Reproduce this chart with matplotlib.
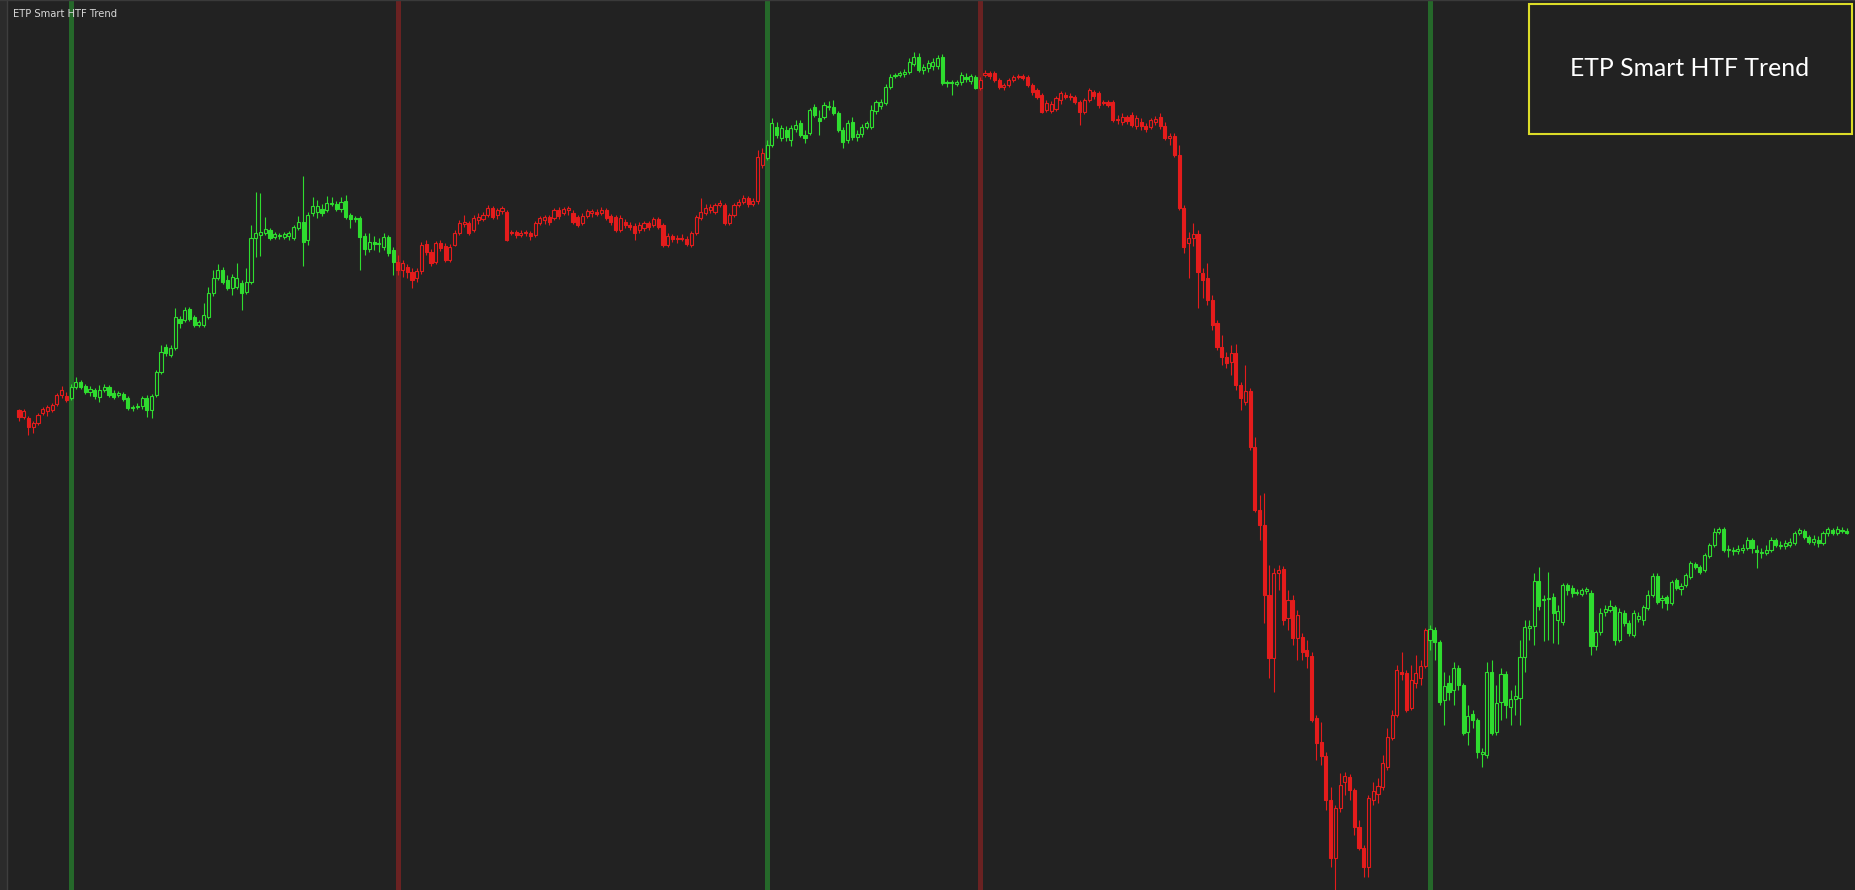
import matplotlib
matplotlib.use("Agg")
import numpy as np
import matplotlib.pyplot as plt
from matplotlib.patches import Rectangle

BG = "#222222"
BULL = "#2fdc2f"
BEAR = "#e41c1c"
LINE_UP = "#25682a"
LINE_DN = "#6a2222"

# bars as (open, high, low, close), one list per trend leg
leg_1 = [(590, 591, 579, 583), (583, 591, 581, 589), (582, 584, 565, 573), (573, 579, 567, 577),
         (577, 587, 575, 585), (587, 593, 585, 591), (589, 595, 584, 593), (590, 597, 588, 595),
         (596, 607, 594, 605), (605, 614, 602, 610), (604, 608, 598, 600)]

leg_2 = [(602, 616, 600, 613), (613, 623, 611, 618), (618, 620, 611, 613), (614, 616, 606, 608),
         (608, 614, 604, 611), (610, 612, 601, 604), (603, 615, 598, 610), (610, 616, 608, 613),
         (613, 615, 603, 605), (607, 610, 601, 603), (605, 609, 603, 607), (606, 608, 599, 601),
         (602, 604, 590, 592), (592, 595, 589, 593), (593, 597, 591, 594), (594, 604, 591, 602),
         (602, 605, 583, 590), (590, 606, 582, 604), (605, 630, 603, 628), (628, 655, 626, 648),
         (653, 656, 644, 647), (645, 655, 643, 652), (652, 692, 650, 683), (681, 684, 672, 677),
         (680, 693, 678, 690), (691, 693, 679, 681), (683, 685, 673, 675), (675, 680, 673, 678),
         (675, 697, 673, 685), (683, 713, 681, 707), (707, 730, 704, 722), (722, 736, 720, 730),
         (730, 733, 716, 718), (720, 725, 710, 712), (712, 726, 705, 723), (713, 737, 711, 722),
         (717, 720, 690, 707), (708, 732, 706, 718), (718, 775, 716, 762), (762, 808, 743, 767),
         (765, 807, 744, 768), (767, 783, 765, 771), (770, 772, 760, 762), (763, 768, 761, 766),
         (764, 767, 761, 765), (763, 768, 761, 766), (764, 769, 760, 767), (762, 775, 760, 773),
         (772, 784, 770, 778), (778, 824, 734, 758), (760, 788, 755, 785), (787, 803, 784, 794),
         (788, 800, 782, 794), (791, 796, 784, 787), (790, 804, 788, 797), (796, 803, 794, 797),
         (796, 799, 789, 791), (791, 803, 788, 798), (799, 805, 781, 783), (785, 787, 772, 781),
         (781, 784, 778, 782), (782, 784, 730, 763), (764, 767, 745, 751), (751, 767, 748, 758),
         (758, 764, 750, 756), (756, 762, 748, 757), (753, 767, 750, 763), (763, 765, 744, 747),
         (750, 753, 725, 738)]

leg_3 = [(738, 745, 725, 730), (730, 740, 723, 737), (733, 736, 722, 728), (728, 732, 712, 720),
         (722, 732, 718, 729), (729, 758, 726, 755), (756, 760, 745, 748), (748, 751, 734, 737),
         (738, 759, 736, 757), (757, 760, 749, 752), (754, 757, 738, 740), (740, 756, 738, 753),
         (755, 770, 754, 767), (767, 780, 765, 777), (776, 785, 773, 778), (777, 779, 765, 767),
         (770, 785, 768, 782), (780, 787, 776, 783), (781, 788, 779, 785), (785, 795, 783, 792),
         (792, 794, 781, 783), (785, 792, 781, 790), (789, 794, 786, 792), (788, 790, 759, 760),
         (767, 770, 765, 768), (768, 770, 762, 765), (765, 770, 763, 767), (767, 770, 764, 768),
         (767, 769, 760, 764), (765, 779, 763, 777), (777, 784, 775, 782), (780, 785, 776, 783),
         (783, 785, 775, 778), (782, 792, 780, 790), (790, 793, 781, 784), (787, 793, 785, 791),
         (790, 794, 785, 792), (787, 790, 776, 778), (783, 785, 773, 775), (777, 787, 775, 784),
         (784, 791, 782, 789), (787, 791, 783, 789), (788, 791, 784, 786), (787, 793, 785, 790),
         (790, 792, 780, 782), (784, 786, 775, 778), (783, 785, 768, 770), (770, 785, 768, 782),
         (778, 781, 772, 775), (775, 778, 770, 773), (774, 777, 760, 767), (770, 778, 767, 775),
         (772, 779, 769, 777), (777, 779, 770, 773), (775, 783, 773, 781), (781, 783, 771, 773),
         (775, 777, 753, 755), (755, 767, 753, 764), (764, 766, 758, 761), (761, 765, 757, 762),
         (762, 766, 759, 761), (761, 764, 754, 756), (755, 769, 753, 767), (767, 785, 765, 783),
         (782, 802, 780, 788), (787, 796, 785, 792), (790, 796, 787, 793), (788, 797, 786, 795),
         (795, 800, 793, 797), (795, 797, 775, 777), (777, 787, 775, 785), (785, 797, 783, 795),
         (795, 801, 793, 798), (798, 805, 796, 802), (802, 804, 793, 796), (796, 802, 794, 799),
         (799, 850, 796, 843), (835, 852, 832, 847)]

leg_4 = [(842, 860, 840, 855), (855, 882, 853, 877), (873, 878, 862, 865), (862, 875, 859, 872),
         (870, 874, 859, 863), (860, 875, 854, 872), (871, 880, 868, 875), (877, 880, 863, 865),
         (865, 870, 857, 862), (867, 892, 865, 890), (893, 896, 883, 885), (882, 890, 865, 879),
         (883, 898, 881, 895), (893, 899, 890, 894), (893, 900, 885, 887), (887, 889, 868, 870),
         (870, 873, 852, 858), (860, 880, 857, 877), (878, 883, 860, 863), (863, 870, 859, 866),
         (866, 876, 863, 873), (873, 879, 871, 877), (873, 895, 871, 890), (889, 900, 886, 898),
         (894, 901, 891, 898), (897, 916, 895, 913), (913, 926, 911, 923), (924, 927, 922, 925),
         (925, 929, 923, 927), (926, 931, 923, 928), (928, 942, 926, 938), (936, 948, 934, 943),
         (943, 947, 928, 930), (930, 936, 926, 933), (932, 940, 928, 937), (934, 942, 930, 938),
         (934, 945, 931, 942), (943, 946, 915, 917), (917, 920, 913, 918), (918, 920, 905, 917),
         (916, 920, 914, 918), (918, 928, 915, 925), (923, 927, 918, 921), (919, 926, 916, 924),
         (923, 925, 911, 912)]

leg_5 = [(912, 923, 910, 920), (925, 930, 923, 927), (927, 929, 921, 924), (927, 929, 918, 920),
         (920, 922, 911, 913), (913, 917, 910, 915), (915, 922, 913, 920), (920, 925, 918, 923),
         (923, 926, 921, 924), (924, 926, 920, 922), (923, 925, 913, 915), (915, 917, 905, 908),
         (910, 912, 901, 903), (905, 907, 887, 888), (890, 900, 888, 897), (889, 899, 887, 896),
         (891, 904, 889, 902), (900, 909, 896, 907), (905, 908, 901, 903), (903, 907, 900, 904),
         (903, 905, 896, 898), (898, 900, 875, 888), (888, 902, 886, 900), (900, 912, 898, 910),
         (908, 910, 901, 904), (907, 909, 892, 895), (897, 900, 895, 898), (898, 900, 893, 895),
         (898, 900, 878, 880), (880, 885, 876, 881), (878, 887, 875, 883), (883, 885, 876, 879),
         (885, 888, 873, 875), (874, 885, 871, 882), (878, 882, 870, 874), (874, 877, 868, 871),
         (873, 882, 871, 880), (878, 884, 875, 881), (883, 887, 871, 874), (874, 878, 860, 862),
         (862, 867, 855, 864), (864, 867, 843, 845), (845, 855, 790, 792), (792, 795, 747, 753),
         (757, 768, 722, 762), (762, 777, 754, 766), (766, 770, 692, 728), (727, 732, 702, 720),
         (722, 737, 695, 700), (700, 705, 670, 675), (677, 680, 650, 653), (653, 665, 635, 643),
         (643, 648, 632, 637), (638, 655, 625, 647), (647, 656, 610, 615), (615, 618, 590, 602),
         (598, 635, 595, 609), (609, 612, 550, 553), (553, 563, 488, 490), (490, 505, 460, 475),
         (475, 507, 377, 405), (405, 435, 322, 342), (342, 432, 308, 427), (427, 435, 410, 430),
         (431, 434, 375, 380), (382, 410, 370, 400), (400, 405, 355, 362), (362, 390, 340, 385),
         (363, 367, 340, 348), (350, 360, 332, 344), (344, 348, 278, 280), (282, 285, 240, 257),
         (258, 278, 235, 244), (244, 248, 190, 200), (200, 213, 133, 142), (142, 195, 110, 192),
         (192, 227, 188, 215), (218, 228, 205, 224), (223, 226, 200, 210), (210, 212, 165, 173),
         (173, 180, 150, 152), (152, 155, 123, 133), (133, 205, 123, 202), (200, 218, 195, 209),
         (206, 222, 197, 214), (213, 245, 210, 237), (233, 272, 230, 263), (262, 290, 260, 285),
         (285, 335, 283, 330), (328, 348, 320, 326), (327, 330, 288, 290), (292, 335, 290, 320),
         (317, 345, 312, 327), (322, 340, 315, 334), (334, 372, 332, 370)]

leg_6 = [(360, 375, 350, 371), (370, 373, 340, 358), (358, 360, 295, 298), (300, 328, 275, 314),
         (317, 325, 300, 308), (310, 338, 295, 332), (332, 335, 310, 315), (315, 317, 265, 267),
         (268, 295, 255, 284), (286, 290, 272, 280), (280, 282, 242, 248), (246, 252, 233, 248),
         (245, 338, 242, 328), (328, 340, 265, 267), (268, 315, 265, 297), (298, 332, 280, 326),
         (326, 329, 282, 295), (293, 310, 275, 301), (301, 315, 285, 304), (302, 360, 275, 343),
         (343, 380, 328, 373), (372, 380, 360, 374), (374, 427, 355, 419), (419, 433, 390, 394),
         (400, 405, 359, 401), (401, 428, 360, 402), (403, 407, 357, 387), (380, 395, 356, 389),
         (378, 417, 375, 415), (415, 417, 405, 410), (412, 415, 403, 407), (407, 411, 405, 408),
         (406, 412, 404, 410), (409, 413, 406, 411), (407, 410, 345, 354), (354, 370, 350, 368),
         (368, 392, 365, 387), (388, 395, 384, 391), (390, 400, 388, 394), (393, 395, 355, 360),
         (360, 392, 358, 388), (387, 390, 374, 377), (377, 380, 364, 367), (365, 390, 363, 387),
         (381, 388, 378, 384), (380, 395, 375, 393), (392, 410, 390, 405), (405, 427, 403, 424),
         (424, 427, 396, 398), (400, 405, 392, 402), (403, 405, 390, 397), (397, 420, 395, 418),
         (420, 422, 410, 412), (411, 417, 405, 414), (415, 427, 413, 425), (423, 439, 421, 437),
         (436, 438, 431, 433), (433, 435, 426, 428), (430, 447, 428, 445), (444, 457, 442, 455),
         (455, 472, 453, 468), (468, 473, 466, 471), (471, 473, 448, 450), (450, 455, 443, 451),
         (449, 453, 445, 450), (449, 455, 446, 451), (450, 456, 447, 452), (452, 463, 450, 460),
         (460, 462, 447, 452), (450, 455, 432, 448), (447, 452, 442, 448), (447, 455, 445, 450),
         (450, 463, 448, 460), (460, 462, 453, 455), (454, 459, 451, 455), (454, 460, 451, 457),
         (455, 462, 453, 458), (457, 469, 455, 467), (467, 472, 465, 470), (469, 471, 461, 463),
         (463, 465, 456, 458), (458, 465, 455, 461), (460, 464, 453, 457), (457, 469, 455, 467),
         (467, 473, 464, 471), (470, 472, 465, 467), (467, 474, 465, 471), (470, 473, 467, 469),
         (469, 472, 466, 467)]

legs = [leg_1, leg_2, leg_3, leg_4, leg_5, leg_6]
leg_trend = ["down", "up", "down", "up", "down", "up"]

title = "ETP Smart HTF Trend"

bars = np.array([b for leg in legs for b in leg], dtype=float)
trend = [t for leg, t in zip(legs, leg_trend) for _ in leg]
o, h, l, c = bars.T
x = np.arange(len(bars))
cols = [BULL if t == "up" else BEAR for t in trend]

fig = plt.figure(figsize=(18.55, 8.9), dpi=100, facecolor=BG)
ax = fig.add_axes([0, 0, 1, 1])
ax.set_facecolor(BG)
ax.set_axis_off()

# bar i sits at pixel x0 + i*step
x0, step = 19.0, 4.735
ax.set_xlim(-x0 / step, (1855 - x0) / step)
ax.set_ylim(110, 1000)

# trend switch line drawn on the first bar of each new leg
start = 0
for leg, t in zip(legs[:-1], leg_trend[1:]):
    start += len(leg)
    ax.axvline(start, color=LINE_UP if t == "up" else LINE_DN, lw=3.6, zorder=1)

ax.vlines(x, l, h, colors=cols, lw=0.8, zorder=2)
w = 0.66
for i in range(len(bars)):
    lo, hi = min(o[i], c[i]), max(o[i], c[i])
    fc = cols[i] if c[i] < o[i] else BG
    ax.add_patch(Rectangle((x[i] - w / 2, lo), w, max(hi - lo, 0.8),
                           facecolor=fc, edgecolor=cols[i], lw=0.8, zorder=3))

# window frame bits
fig.patches.append(Rectangle((0, 0), 7 / 1855, 1, transform=fig.transFigure,
                             facecolor="#2b2b2b", edgecolor="none", zorder=5))
fig.lines.append(plt.Line2D([7 / 1855, 7 / 1855], [0, 1], transform=fig.transFigure,
                            color="#3e3e3e", lw=1, zorder=6))
fig.lines.append(plt.Line2D([0, 1], [0.9995, 0.9995], transform=fig.transFigure,
                            color="#3a3a3a", lw=1, zorder=6))

fig.text(13 / 1855, 1 - 14 / 890, title, color="#d8d8d8", fontsize=7.2,
         ha="left", va="center")

# label box in the corner
fig.patches.append(Rectangle((1529 / 1855, 1 - 134 / 890), 323 / 1855, 130 / 890,
                             transform=fig.transFigure, facecolor=BG,
                             edgecolor="#dcdc28", lw=1.5, zorder=7))
fig.text(1690 / 1855, 1 - 69 / 890, title, color="white", fontsize=17.8,
         family=["Lato", "DejaVu Sans"], ha="center", va="center", zorder=8)

fig.savefig("out.png", dpi=100, facecolor=BG)
